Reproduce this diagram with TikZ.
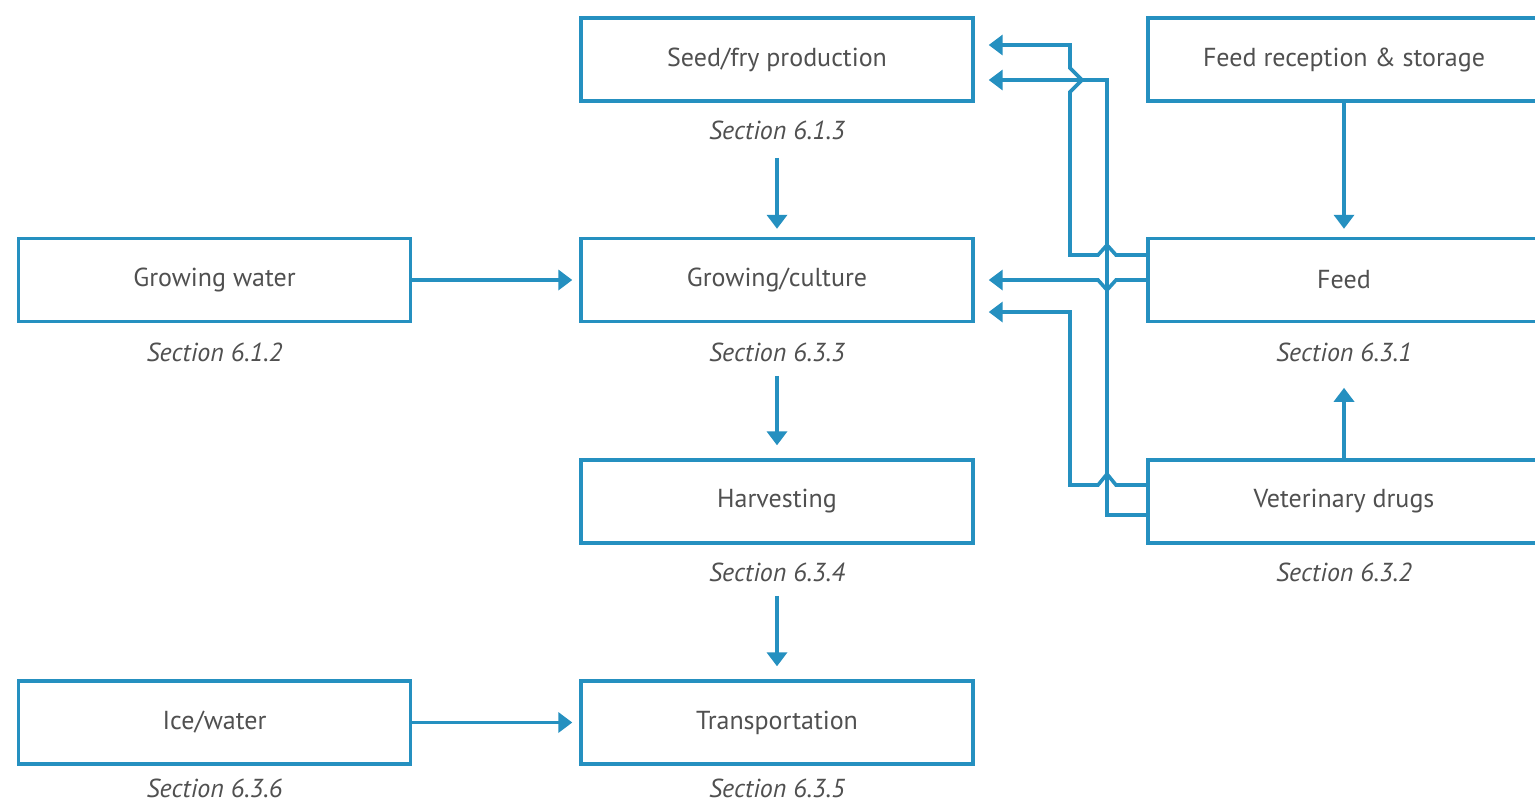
\documentclass[tikz,border=0pt]{standalone}
\usepackage{fontspec}
\setmainfont{PT Sans}
\usetikzlibrary{arrows.meta,calc}
\definecolor{lineblue}{HTML}{2590C0}
\definecolor{txt}{HTML}{505050}
\begin{document}
\begin{tikzpicture}[x=0.5pt,y=-0.5pt,
  box/.style={draw=lineblue,line width=1.7pt,minimum width=196pt,minimum height=41.5pt,inner sep=0pt,text=txt,font=\fontsize{13}{15}\selectfont},
  sec/.style={text=txt,font=\fontsize{13}{15}\selectfont\itshape,inner sep=0pt},
  conn/.style={draw=lineblue,line width=1.8pt,-{Triangle[length=7pt,width=10pt]}},
  wire/.style={draw=lineblue,line width=1.8pt}]
\useasboundingbox (0,0) rectangle (1535,805);
\clip (0,0) rectangle (1535,805);
\fill[white] (0,0) rectangle (1535,805);
% boxes
\node[box] (seed) at (777,59.5) {Seed/fry production};
\node[box] (fr) at (1344,59.5) {Feed reception \& storage};
\node[box] (gw) at (214.5,280) {Growing water};
\node[box] (grow) at (777,280) {Growing/culture};
\node[box] (feed) at (1344,280) {Feed};
\node[box] (harv) at (777,501.5) {Harvesting};
\node[box] (vet) at (1344,501.5) {Veterinary drugs};
\node[box] (ice) at (214.5,722.5) {Ice/water};
\node[box] (trans) at (777,722.5) {Transportation};
% section labels
\node[sec] (s613) at (777,130) {Section 6.1.3};
\node[sec] (s612) at (214.5,352) {Section 6.1.2};
\node[sec] (s633) at (777,352) {Section 6.3.3};
\node[sec] (s631) at (1344,352) {Section 6.3.1};
\node[sec] (s634) at (777,572) {Section 6.3.4};
\node[sec] (s632) at (1344,572) {Section 6.3.2};
\node[sec] (s636) at (214.5,788) {Section 6.3.6};
\node[sec] (s635) at (777,788) {Section 6.3.5};
% vertical flow
\draw[conn] ([yshift=-9pt]s613.south) -- ([yshift=4pt]grow.north);
\draw[conn] ([yshift=-7pt]s633.south) -- ([yshift=6.5pt]harv.north);
\draw[conn] ([yshift=-7pt]s634.south) -- ([yshift=6.5pt]trans.north);
\draw[conn] (fr.south) -- ([yshift=4pt]feed.north);
\draw[conn] (vet.north) -- ([yshift=-13pt]s631.south);
% horizontal inputs
\draw[conn] (gw.east) -- ([xshift=-3.5pt]grow.west);
\draw[conn] (ice.east) -- ([xshift=-3.5pt]trans.west);
% feed -> seed
\draw[conn] ([yshift=12.5pt]feed.west) -- (1116,255) -- (1107,245) -- (1098,255) -- (1070,255)
  -- (1070,92) -- (1082,80) -- (1070,68) -- (1070,45) -- ([xshift=7pt,yshift=7.25pt]seed.east);
% feed -> growing
\draw[conn] (feed.west) -- (1116,280) -- (1107,290) -- (1098,280) -- ([xshift=7pt]grow.east);
% vet -> growing
\draw[conn] ([yshift=8.25pt]vet.west) -- (1116,485) -- (1107,474) -- (1098,485) -- (1070,485)
  -- (1070,312) -- ([xshift=7pt,yshift=-16pt]grow.east);
% vet -> seed
\draw[conn] ([yshift=-6.75pt]vet.west) -- (1107,515) -- (1107,80) -- ([xshift=7pt,yshift=-10.25pt]seed.east);
\end{tikzpicture}
\end{document}
